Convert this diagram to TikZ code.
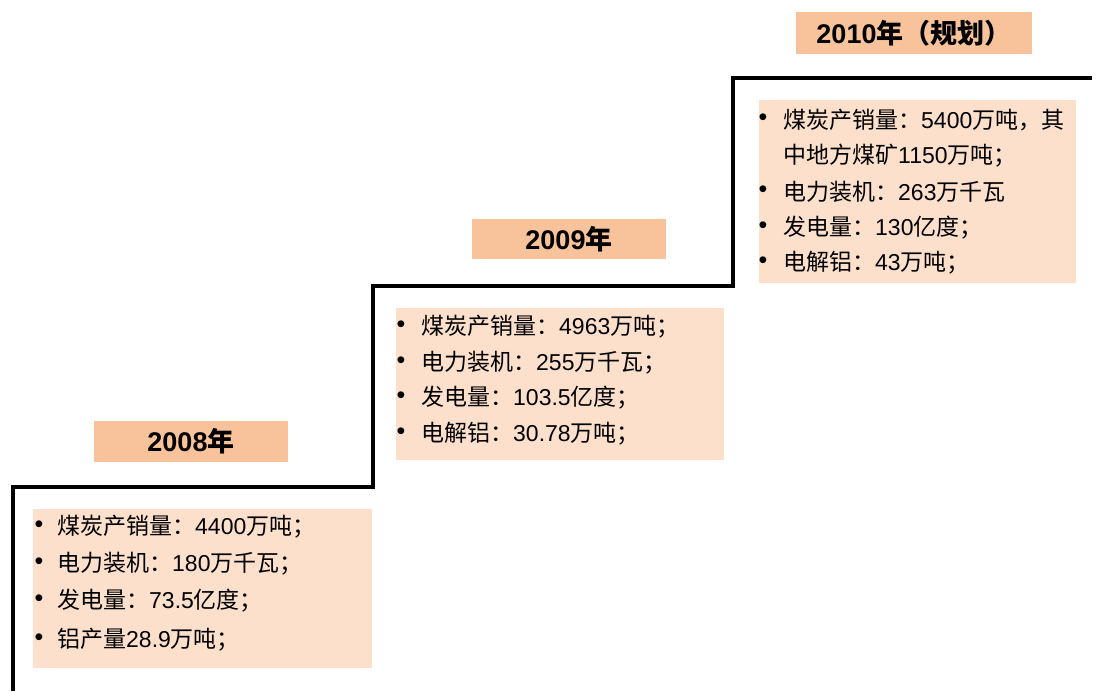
\documentclass[tikz,border=0pt]{standalone}
\usepackage{fontspec}
\setmainfont{Liberation Sans}
\newfontfamily\cjk{Noto Sans CJK SC}
\newcommand\C[1]{{\cjk #1}}
\definecolor{titlefill}{HTML}{F8C29A}
\definecolor{boxfill}{HTML}{FCE0CC}
\tikzset{
  stair/.style={line width=3.6pt, black, line join=miter},
  titlebox/.style={fill=titlefill, draw=none, inner sep=0pt, font=\fontsize{27}{32}\bfseries\selectfont},
  infobox/.style={fill=boxfill, draw=none, inner sep=0pt},
  item/.style={anchor=west, inner sep=0pt, font=\fontsize{23}{28}\selectfont},
  bul/.style={anchor=center, inner sep=0pt, font=\fontsize{25}{28}\selectfont}
}
\begin{document}
\begin{tikzpicture}[x=1pt,y=-1pt]
\useasboundingbox (0,0) rectangle (1098,691);
% staircase
\coordinate (s0) at (13,691);
\coordinate (s1) at (13,487);
\coordinate (s2) at (373,487);
\coordinate (s3) at (373,286);
\coordinate (s4) at (733,286);
\coordinate (s5) at (733,78);
\coordinate (s6) at (1092,78);
\draw[stair] (s0) -- (s1) -- (s2) -- (s3) -- (s4) -- (s5) -- (s6);

% titles
\node[titlebox, minimum width=194pt, minimum height=41pt] (t1) at (191,441.5) {2008\C{年}};
\node[titlebox, minimum width=194pt, minimum height=40pt] (t2) at (569,239) {2009\C{年}};
\node[titlebox, minimum width=236pt, minimum height=42pt] (t3) at (914,33) {2010\C{年（规划）}};

% info boxes
\node[infobox, minimum width=339pt, minimum height=159pt] (b1) at (202.5,588.5) {};
\node[infobox, minimum width=328pt, minimum height=152pt] (b2) at (560,384) {};
\node[infobox, minimum width=317pt, minimum height=183pt] (b3) at (917.5,191.5) {};

% 2008 items
\node[bul] (b1d1) at (39,527) {•};
\node[item] (b1l1) at (57,527) {\C{煤炭产销量：}4400\C{万吨；}};
\node[bul] (b1d2) at (39,564) {•};
\node[item] (b1l2) at (57,564) {\C{电力装机：}180\C{万千瓦；}};
\node[bul] (b1d3) at (39,601) {•};
\node[item] (b1l3) at (57,601) {\C{发电量：}73.5\C{亿度；}};
\node[bul] (b1d4) at (39,640) {•};
\node[item] (b1l4) at (57,640) {\C{铝产量}28.9\C{万吨；}};

% 2009 items
\node[bul] (b2d1) at (401,327) {•};
\node[item] (b2l1) at (421,327) {\C{煤炭产销量：}4963\C{万吨；}};
\node[bul] (b2d2) at (401,363) {•};
\node[item] (b2l2) at (421,363) {\C{电力装机：}255\C{万千瓦；}};
\node[bul] (b2d3) at (401,398) {•};
\node[item] (b2l3) at (421,398) {\C{发电量：}103.5\C{亿度；}};
\node[bul] (b2d4) at (401,434) {•};
\node[item] (b2l4) at (421,434) {\C{电解铝：}30.78\C{万吨；}};

% 2010 items
\node[bul] (b3d1) at (763,120) {•};
\node[item] (b3l1) at (783,120) {\C{煤炭产销量：}5400\C{万吨，其}};
\node[item] (b3l1b) at (783,156) {\C{中地方煤矿}1150\C{万吨；}};
\node[bul] (b3d2) at (763,192) {•};
\node[item] (b3l2) at (783,192) {\C{电力装机：}263\C{万千瓦}};
\node[bul] (b3d3) at (763,228) {•};
\node[item] (b3l3) at (783,228) {\C{发电量：}130\C{亿度；}};
\node[bul] (b3d4) at (763,263) {•};
\node[item] (b3l4) at (783,263) {\C{电解铝：}43\C{万吨；}};
\end{tikzpicture}
\end{document}
